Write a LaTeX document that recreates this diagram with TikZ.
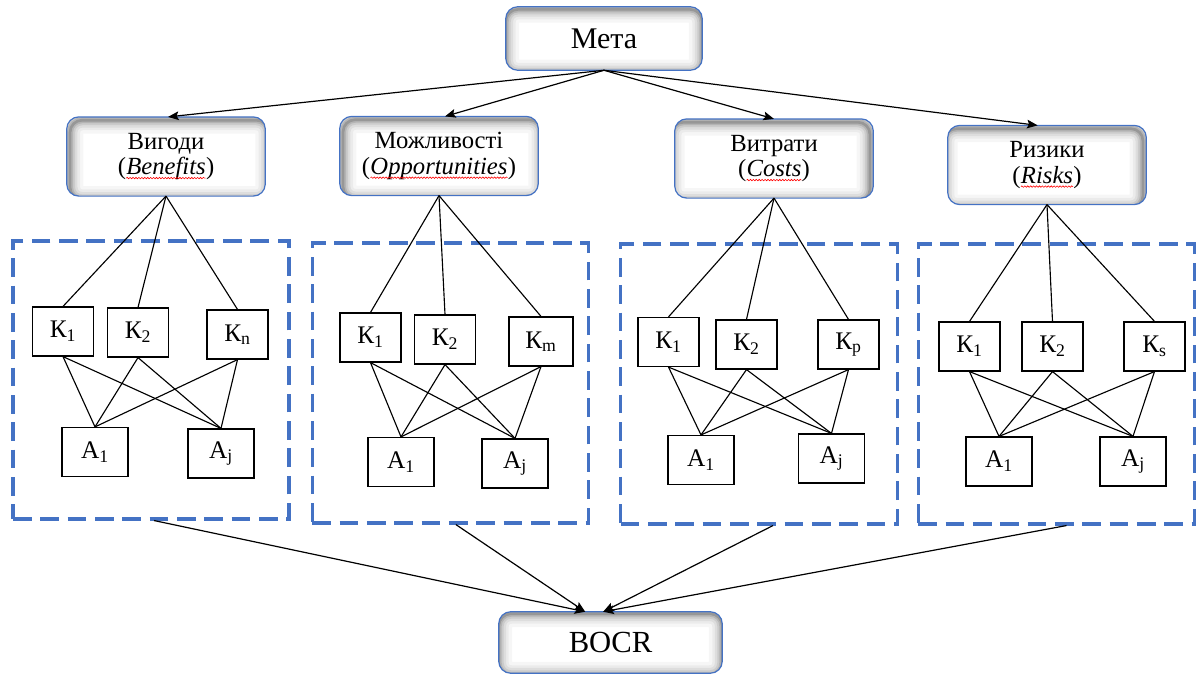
\documentclass[tikz,border=0pt]{standalone}
\usepackage{fontspec}
\setmainfont{Liberation Serif}
\usetikzlibrary{arrows.meta,decorations.pathmorphing}
\definecolor{bblue}{HTML}{4472C4}
\newcommand\squig[1]{\tikz[baseline=(sqw.base)]{\node[inner sep=0pt,outer sep=0pt,draw=none,fill=none,minimum size=0pt] (sqw) {#1};\draw[red,line width=0.45pt,decorate,decoration={snake,amplitude=0.55pt,segment length=2.2pt}] ([yshift=-2.6pt]sqw.base west) -- ([yshift=-2.6pt]sqw.base east);}}
\newcommand\glow[3]{%
  \begin{scope}
    \clip[rounded corners=9pt] (#1.south west) rectangle (#1.north east);
    \foreach \w/\o in {20/0.035,15/0.045,11/0.06,7.5/0.08,4.5/0.11,2/0.16}
      \draw[line width=\w pt,black,opacity=\o,rounded corners=9pt]
        ([xshift=#2,yshift=#3]#1.south west) rectangle ([xshift=#2,yshift=#3]#1.north east);
  \end{scope}
  \draw[bblue,line width=0.9pt,rounded corners=9pt] (#1.south west) rectangle (#1.north east);
}
\begin{document}
\begin{tikzpicture}[x=0.75pt,y=-0.75pt,
  topbox/.style={fill=white,minimum width=147pt,minimum height=47.25pt,inner sep=0pt,
    font=\fontsize{22.5}{26}\selectfont},
  catbox/.style={fill=white,minimum width=148.5pt,minimum height=59pt,inner sep=0pt,
    align=center,font=\fontsize{18.5}{19}\selectfont},
  kbox/.style={draw,line width=0.9pt,minimum width=45.75pt,minimum height=36.75pt,
    inner sep=0pt,font=\fontsize{19}{21}\selectfont},
  abox/.style={kbox,minimum width=49.5pt},
  dbox/.style={draw=bblue,line width=2.3pt,dash pattern=on 14pt off 6.5pt,
    minimum width=207.5pt,minimum height=210pt,inner sep=0pt},
  link/.style={line width=0.85pt},
  arr/.style={line width=0.9pt,-{Stealth[length=8pt,width=6.5pt,inset=1.5pt]}}]
\useasboundingbox (0,0) rectangle (1199,675);

% dashed groups
\node[dbox,minimum width=207pt,minimum height=208.5pt] (d1) at (151,380) {};
\node[dbox] (d2) at (450.5,383) {};
\node[dbox] (d3) at (759,384) {};
\node[dbox] (d4) at (1056.5,384) {};

% top boxes
\node[topbox] (meta) at (604,38.5) {Мета};
\glow{meta}{0pt}{-2pt}
\node[catbox] (ben) at (166,156.5) {Вигоди\\(\textit{\squig{Benefits}})};
\glow{ben}{2.5pt}{-2.5pt}
\node[catbox] (opp) at (439,156) {Можливості\\(\textit{\squig{Opportunities}})};
\glow{opp}{2.5pt}{-2.5pt}
\node[catbox] (cos) at (774,158.5) {Витрати\\(\textit{\squig{Costs}})};
\glow{cos}{-2.5pt}{-2.5pt}
\node[catbox] (ris) at (1047,165) {Ризики\\(\textit{\squig{Risks}})};
\glow{ris}{-2.5pt}{-2.5pt}
\node[topbox,minimum width=167.25pt,minimum height=45.75pt,font=\fontsize{23}{26}\selectfont] (bocr) at (610.5,642.5) {BOCR};
\glow{bocr}{0pt}{-1.5pt}

% group 1
\node[kbox] (b1k1) at (63,331.5) {К\textsubscript{1}};
\node[kbox] (b1k2) at (138,332.5) {К\textsubscript{2}};
\node[kbox] (b1k3) at (237.5,334.5) {К\textsubscript{n}};
\node[abox] (b1a1) at (95,452) {А\textsubscript{1}};
\node[abox] (b1a2) at (221,453.5) {А\textsubscript{j}};
% group 2
\node[kbox] (b2k1) at (370.5,337.5) {К\textsubscript{1}};
\node[kbox] (b2k2) at (445,339.5) {К\textsubscript{2}};
\node[kbox,minimum width=48pt] (b2k3) at (541,341.5) {К\textsubscript{m}};
\node[abox] (b2a1) at (401,462) {А\textsubscript{1}};
\node[abox] (b2a2) at (515,463.5) {А\textsubscript{j}};
% group 3
\node[kbox] (b3k1) at (668.5,342) {К\textsubscript{1}};
\node[kbox] (b3k2) at (746.5,344.5) {К\textsubscript{2}};
\node[kbox] (b3k3) at (848.5,344.5) {К\textsubscript{p}};
\node[abox] (b3a1) at (701,460) {А\textsubscript{1}};
\node[abox] (b3a2) at (831.5,458.5) {А\textsubscript{j}};
% group 4
\node[kbox] (b4k1) at (969.5,346.5) {К\textsubscript{1}};
\node[kbox] (b4k2) at (1052.5,346.5) {К\textsubscript{2}};
\node[kbox] (b4k3) at (1154.5,346.5) {К\textsubscript{s}};
\node[abox] (b4a1) at (999,461.5) {А\textsubscript{1}};
\node[abox] (b4a2) at (1133,461.5) {А\textsubscript{j}};

% arrows from goal
\draw[arr] (meta.south) -- ([xshift=1.5pt]ben.north);
\draw[arr] (meta.south) -- ([xshift=4.5pt]opp.north);
\draw[arr] (meta.south) -- (cos.north);
\draw[arr] (meta.south) -- ([xshift=-7pt]ris.north);

% criteria links
\foreach \g/\c in {1/ben,2/opp,3/cos,4/ris}{
  \foreach \k in {1,2,3}{
    \draw[link] (\c.south) -- (b\g k\k.north);
    \foreach \a in {1,2}
      \draw[link] (b\g k\k.south) -- (b\g a\a.north);
  }
}

% arrows to BOCR
\draw[arr] ([xshift=2.25pt]d1.south) -- ([xshift=-19pt]bocr.north);
\draw[arr] ([xshift=4pt]d2.south) -- ([xshift=-19pt]bocr.north);
\draw[arr] ([xshift=10.5pt]d3.south) -- ([xshift=-5.5pt]bocr.north);
\draw[arr] ([xshift=7.5pt]d4.south) -- ([xshift=-5.5pt]bocr.north);
\end{tikzpicture}
\end{document}
